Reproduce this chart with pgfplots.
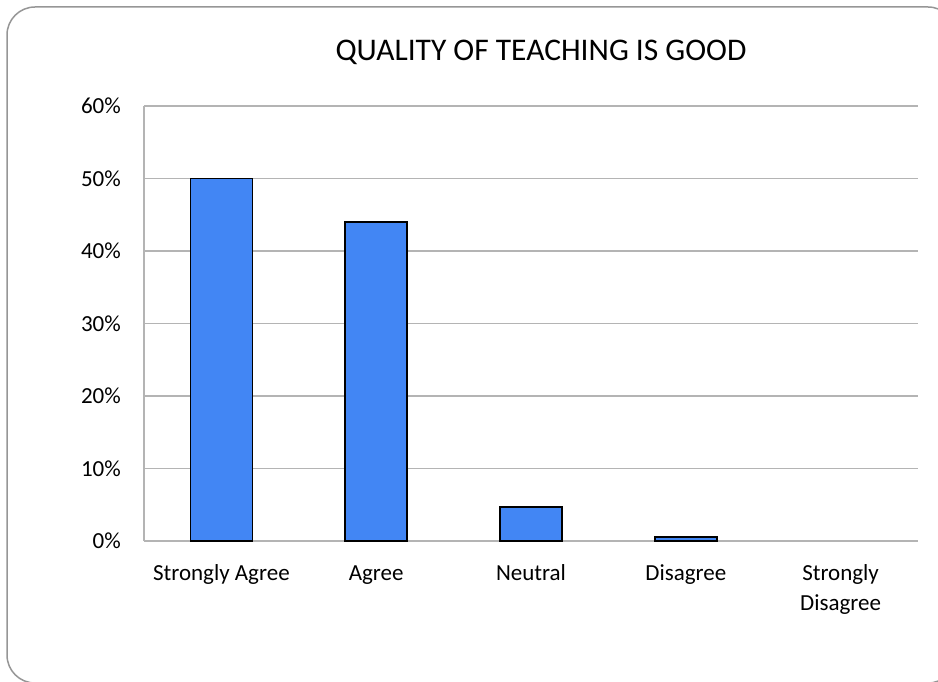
\documentclass[border=0pt]{standalone}
\usepackage{pgfplots}
\pgfplotsset{compat=1.18}
\usepackage{fontspec}
\setmainfont{Carlito}
\definecolor{barblue}{RGB}{66,134,244}
\definecolor{gridgray}{RGB}{180,180,180}
\definecolor{framegray}{RGB}{150,150,150}
\begin{document}
\begin{tikzpicture}[x=1pt,y=1pt]
\useasboundingbox (0,0) rectangle (938,681);
\begin{scope}
\clip (0,0) rectangle (938,681);
\draw[framegray, line width=1.5pt, rounded corners=28pt] (7,-2) rectangle (956,674);
\end{scope}
\node[font=\fontsize{31.5}{36}\selectfont, anchor=base] at (541,620) {QUALITY OF TEACHING IS GOOD};
\begin{axis}[
  at={(144pt,140pt)}, anchor=south west,
  scale only axis, width=774pt, height=435pt,
  xmin=-0.5, xmax=4.5, ymin=0, ymax=60,
  ytick={0,10,...,60},
  xtick={0,1,2,3,4},
  xticklabels={\strut Strongly Agree, \strut Agree, \strut Neutral, \strut Disagree, {\strut Strongly\\Disagree}},
  axis x line*=bottom, axis y line*=left,
  axis line style={draw=gridgray, line width=1.5pt, -},
  ymajorgrids, grid style={draw=gridgray, line width=1.3pt},
  major tick length=0pt,
  tick style={draw=none},
  /pgf/number format/assume math mode=true,
  yticklabel={\pgfmathprintnumber{\tick}\%},
  tick label style={font=\fontsize{23}{29.5}\selectfont},
  yticklabel style={anchor=east, inner sep=0pt, xshift=-23pt},
  xticklabel style={anchor=north, inner sep=0pt, yshift=-19pt, align=center},
  clip=false,
]
\addplot[ybar, bar width=62pt, fill=barblue, draw=black, line width=1.8pt]
  coordinates {(0,50) (1,44) (2,4.7) (3,0.5)};
% Strongly Disagree: 0
\end{axis}
\end{tikzpicture}
\end{document}
